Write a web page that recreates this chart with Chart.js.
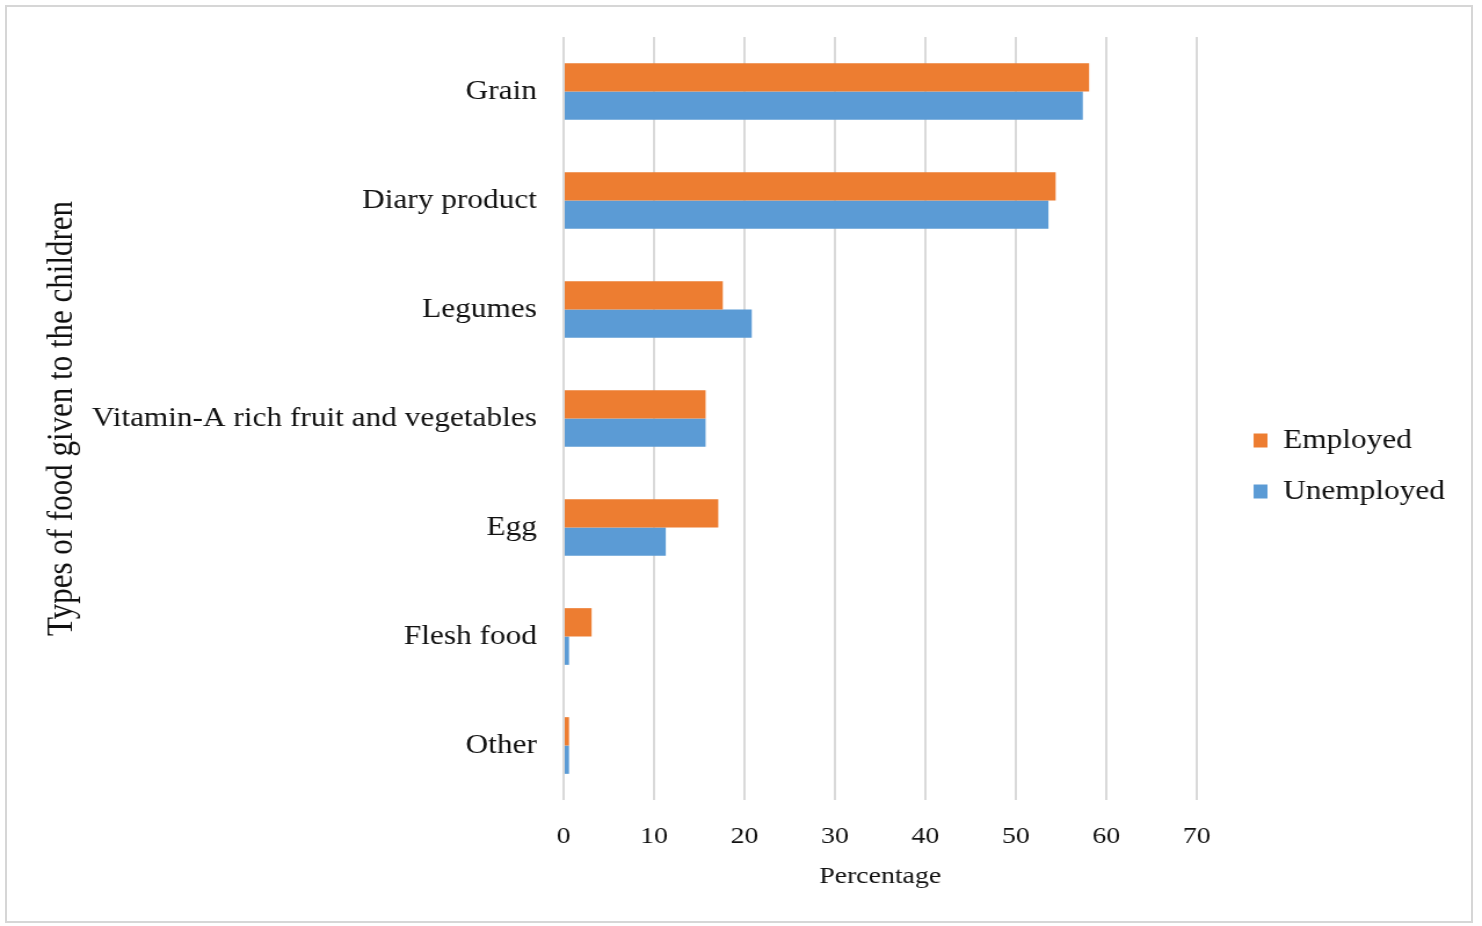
<!DOCTYPE html>
<html>
<head>
<meta charset="utf-8">
<script src="https://cdn.jsdelivr.net/npm/chart.js@4"></script>
<style>
  html, body { margin: 0; padding: 0; background: #fff; }
  #frame {
    position: absolute; left: 5px; top: 5px; width: 1464px; height: 914px;
    border: 2px solid #d6d6d6;
  }
  #foodChart { position: absolute; left: 0; top: 0; }
</style>
</head>
<body>
<div id="frame"></div>
<canvas id="foodChart" width="1278" height="926" style="width:1482px;height:926px"></canvas>
<script>
// Values (percent)
const categories = ["Grain", "Diary product", "Legumes", "Vitamin-A rich fruit and vegetables", "Egg", "Flesh food", "Other"];
const employed = [58.1, 54.4, 17.6, 15.7, 17.1, 3.1, 0.6];
const unemployed = [57.4, 53.6, 20.8, 15.7, 11.3, 0.6, 0.6];
const xTickValues = [0, 10, 20, 30, 40, 50, 60, 70];

const serif = "'Liberation Serif', 'Times New Roman', serif";
const textColor = "#111";

// the original picture is stretched sideways, so the canvas is drawn narrower and scaled up by css
const ctx = document.getElementById("foodChart").getContext("2d");
const foodChart = new Chart(ctx, {
    type: "bar",
    data: {
        labels: categories,
        datasets: [{
            label: "Employed",
            data: employed,
            backgroundColor: "#ED7D31",
            borderWidth: 0
        }, {
            label: "Unemployed",
            data: unemployed,
            backgroundColor: "#5B9BD5",
            borderWidth: 0
        }]
    },
    options: {
        indexAxis: "y",
        responsive: false,
        devicePixelRatio: 1,
        animation: false,
        datasets: {
            bar: { categoryPercentage: 0.52, barPercentage: 1 }
        },
        layout: {
            padding: { left: 31, top: 37, bottom: 31, right: 22 }
        },
        scales: {
            x: {
                min: 0,
                max: 70,
                afterBuildTicks: function(scale) {
                    scale.ticks = xTickValues.map(v => ({ value: v }));
                },
                afterFit: function(scale) { scale.height = 95; },
                grid: { color: "#d9d9d9", lineWidth: 2, drawTicks: false },
                border: { display: false },
                ticks: {
                    padding: 22,
                    color: textColor,
                    font: { family: serif, size: 24 }
                },
                title: {
                    display: true,
                    text: "Percentage",
                    color: textColor,
                    padding: { top: 4, bottom: 4 },
                    font: { family: serif, size: 24 }
                }
            },
            y: {
                afterFit: function(scale) {
                    scale.width = 455;
                    // labels sit inside the bands, no extra room above/below needed
                    scale.paddingTop = 0;
                    scale.paddingBottom = 0;
                },
                grid: { display: false, drawTicks: false },
                border: { display: false },
                ticks: {
                    padding: 23,
                    color: textColor,
                    font: { family: serif, size: 27 }
                },
                title: {
                    display: true,
                    text: "Types of food given to the children",
                    color: textColor,
                    padding: { top: 4, bottom: 4 },
                    font: { family: serif, size: 31 }
                }
            },
            // empty axis, only keeps a gap between the bars and the legend
            gap: {
                type: "linear",
                position: "right",
                grid: { display: false, drawTicks: false },
                border: { display: false },
                ticks: { display: false },
                afterFit: function(scale) { scale.width = 25; }
            }
        },
        plugins: {
            tooltip: { enabled: false },
            legend: {
                position: "right",
                labels: {
                    boxWidth: 12,
                    boxHeight: 14,
                    padding: 24,
                    color: textColor,
                    font: { family: serif, size: 27 }
                }
            }
        }
    }
});
</script>
</body>
</html>
